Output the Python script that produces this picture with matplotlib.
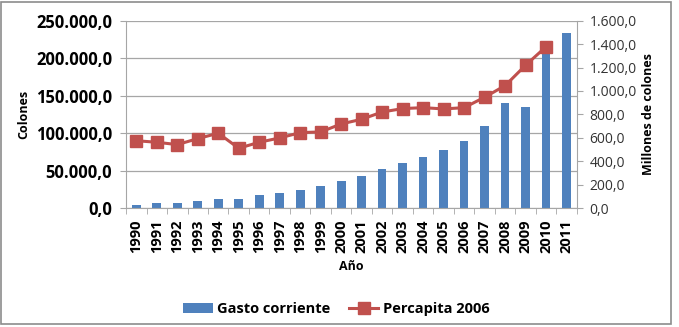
import numpy as np
import matplotlib
matplotlib.use("Agg")
import matplotlib.pyplot as plt
from matplotlib.patches import Rectangle
from matplotlib.ticker import FuncFormatter

years = [str(y) for y in range(1990, 2012)]
gasto = [4800, 7000, 7000, 9300, 12000, 12000, 17300, 20000, 24700, 29200, 36000,
         43000, 51900, 59800, 68600, 77500, 89500, 109800, 140400, 134700, 208300, 234000]
percapita = [576, 563, 543, 594, 640, 512, 563, 600, 645, 651, 719,
             759, 821, 850, 858, 847, 858, 947, 1046, 1220, 1378]

bar_color = "#4F81BD"
line_color = "#C0504D"
grid_color = "#A6A6A6"

plt.rcParams['font.family'] = ['Open Sans', 'DejaVu Sans']


def es_fmt(v, pos):
    s = f"{v:,.1f}"
    return s.replace(",", "X").replace(".", ",").replace("X", ".")


fig = plt.figure(figsize=(6.79, 3.27), dpi=100)
ax = fig.add_axes([0.1856, 0.363, 0.664, 0.574])
x = np.arange(len(years))

ax.bar(x, gasto, width=0.42, color=bar_color, zorder=2, label="Gasto corriente")
ax.set_ylim(0, 250000)
ax.set_yticks(np.arange(0, 250001, 50000))
ax.yaxis.set_major_formatter(FuncFormatter(es_fmt))
ax.set_xlim(-0.5, len(years) - 0.5)
ax.set_xticks(x)
ax.set_xticklabels(years, rotation=90, fontsize=10.5, fontweight="bold")
ax.set_xticks(np.arange(-0.5, len(years)), minor=True)
ax.tick_params(axis="x", which="major", length=0, pad=8)
ax.tick_params(axis="x", which="minor", length=4, color=grid_color)
ax.tick_params(axis="y", length=4, color=grid_color, labelsize=12, pad=6)
for lab in ax.get_yticklabels():
    lab.set_fontweight("bold")
ax.grid(axis="y", color=grid_color, linewidth=0.9, zorder=0)
for side in ["top", "right"]:
    ax.spines[side].set_visible(False)
ax.spines["left"].set_color(grid_color)
ax.spines["bottom"].set_color(grid_color)
ax.set_ylabel("Colones", fontsize=9, fontweight="bold", labelpad=4)
ax.set_xlabel("Año", fontsize=9, fontweight="bold", labelpad=5)

ax2 = ax.twinx()
ax2.plot(x[:len(percapita)], percapita, color=line_color, linewidth=2.2, marker="s",
         markersize=9, zorder=3, label="Percapita 2006")
ax2.set_ylim(0, 1600)
ax2.set_yticks(np.arange(0, 1601, 200))
ax2.yaxis.set_major_formatter(FuncFormatter(es_fmt))
ax2.tick_params(axis="y", length=4, color=grid_color, labelsize=10, labelcolor="#333333", pad=5)
for side in ["top", "left", "bottom"]:
    ax2.spines[side].set_visible(False)
ax2.spines["right"].set_color(grid_color)
ax2.set_ylabel("Millones de colones", fontsize=9, fontweight="bold", labelpad=4)

h1, l1 = ax.get_legend_handles_labels()
h2, l2 = ax2.get_legend_handles_labels()
fig.legend(h1 + h2, l1 + l2, loc="center", bbox_to_anchor=(0.4956, 0.055), ncol=2,
           frameon=False, prop={"size": 10.5, "weight": "bold"}, handlelength=2.0,
           columnspacing=1.3, handletextpad=0.3)

fig.patches.append(Rectangle((1 / 679, 3 / 327), 670 / 679, 322 / 327,
                             transform=fig.transFigure, fill=False,
                             edgecolor="#8C8C8C", linewidth=1.2))

fig.savefig("out.png", dpi=100)
